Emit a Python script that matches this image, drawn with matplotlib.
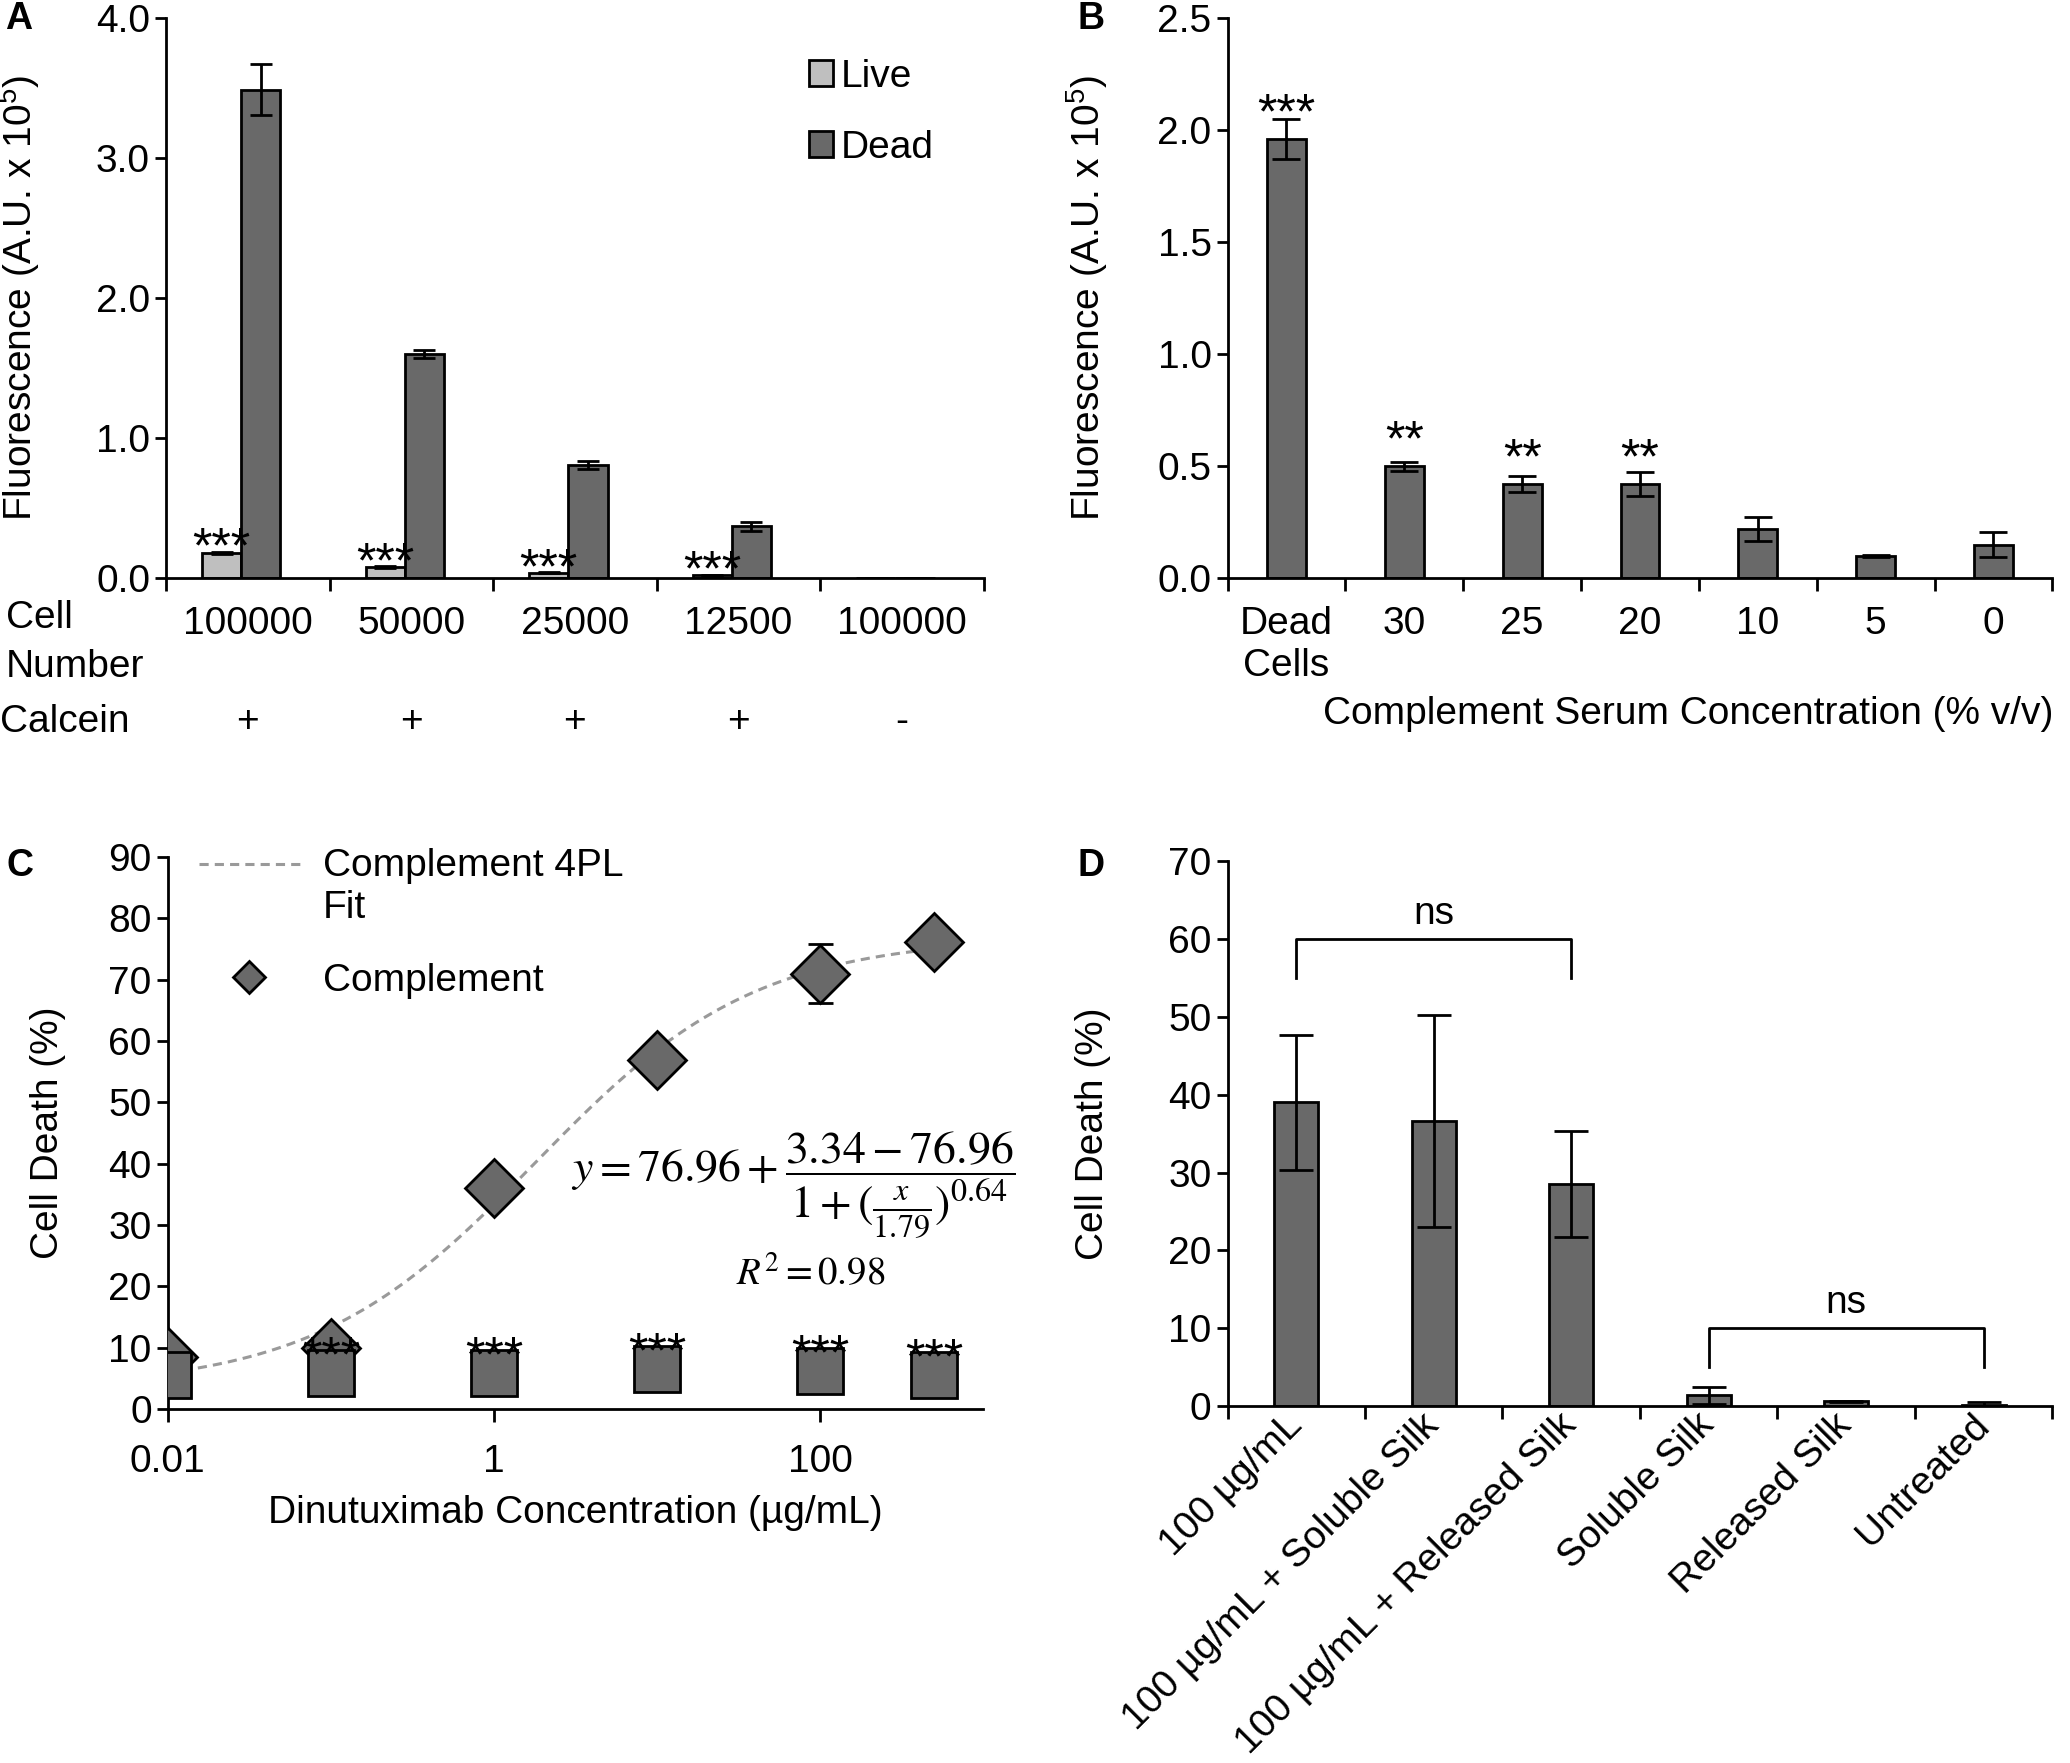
import numpy as np
import matplotlib
matplotlib.use("Agg")
import matplotlib.pyplot as plt
from matplotlib.patches import Patch
from matplotlib.legend_handler import HandlerLine2D
from matplotlib.ticker import NullLocator, FixedLocator
import matplotlib.transforms as mtransforms

plt.rcParams["font.family"] = ["Liberation Sans", "DejaVu Sans"]
plt.rcParams["mathtext.fontset"] = "stix"
plt.rcParams["font.size"] = 28
plt.rcParams["axes.linewidth"] = 2

DARK = "#696969"
LIGHT = "#bfbfbf"
STAR_SIZE = 36

# ---- panel A data
a_cells = ["100000", "50000", "25000", "12500", "100000"]
a_calcein = ["+", "+", "+", "+", "-"]
a_live = [0.18, 0.08, 0.04, 0.02, 0.003]
a_live_err = [0.01, 0.005, 0.005, 0.005, 0.0]
a_dead = [3.49, 1.60, 0.81, 0.37, 0.005]
a_dead_err = [0.18, 0.03, 0.03, 0.03, 0.0]
a_live_sig = ["***", "***", "***", "***", ""]

# ---- panel B data
b_labels = ["Dead\nCells", "30", "25", "20", "10", "5", "0"]
b_vals = [1.96, 0.50, 0.42, 0.42, 0.22, 0.10, 0.15]
b_err = [0.09, 0.02, 0.035, 0.055, 0.055, 0.003, 0.055]
b_sig = ["***", "**", "**", "**", "", "", ""]

# ---- panel C data
c_conc = [0.01, 0.1, 1, 10, 100, 500]
c_complement = [8.5, 10.0, 36.1, 57.0, 71.0, 76.2]
c_complement_err = [0.5, 0.5, 0.8, 0.8, 4.8, 0.8]
c_no_complement = [5.6, 5.9, 5.9, 6.6, 6.2, 5.5]
c_sig = ["", "***", "***", "***", "***", "***"]
fit_bottom, fit_top, fit_ec50, fit_hill = 3.34, 76.96, 1.79, 0.64

# ---- panel D data
d_labels = ["100 µg/mL", "100 µg/mL + Soluble Silk", "100 µg/mL + Released Silk",
            "Soluble Silk", "Released Silk", "Untreated"]
d_vals = [39.0, 36.6, 28.5, 1.4, 0.6, 0.15]
d_err = [8.7, 13.6, 6.8, 1.1, 0.1, 0.3]
d_brackets = [(0, 2, 60, "ns"), (3, 5, 10, "ns")]


class HandlerTopLine(HandlerLine2D):
    # keep the dashed sample level with the first line of a two-line label
    def create_artists(self, legend, orig_handle, xdescent, ydescent, width, height,
                       fontsize, trans):
        arts = super().create_artists(legend, orig_handle, xdescent, ydescent, width,
                                      height, fontsize, trans)
        for a in arts:
            a.set_ydata(np.asarray(a.get_ydata()) + 0.6 * fontsize)
        return arts


def category_axis(ax, n, labels, pad):
    ax.set_xlim(-0.5, n - 0.5)
    ax.xaxis.set_major_locator(FixedLocator(np.arange(-0.5, n, 1)))
    ax.set_xticklabels([])
    ax.set_xticks(np.arange(n), labels, minor=True)
    ax.tick_params(axis="x", which="major", length=9, width=2, direction="out")
    ax.tick_params(axis="x", which="minor", length=0, pad=pad)


def style(ax):
    for s in ("top", "right"):
        ax.spines[s].set_visible(False)
    ax.tick_params(axis="y", length=8, width=2, direction="out")


def stars(ax, x, y, s, dy):
    ax.annotate(s, (x, y), xytext=(0, dy), textcoords="offset points", ha="center",
                va="baseline", fontsize=STAR_SIZE, zorder=6)


fig = plt.figure(figsize=(20.7, 17.63), dpi=100)

# ---- A
axA = fig.add_axes([0.0802, 0.672, 0.395, 0.3177])
style(axA)
x = np.arange(len(a_cells))
axA.bar(x - 0.16, a_live, 0.24, color=LIGHT, edgecolor="black", lw=2, zorder=2)
axA.bar(x + 0.08, a_dead, 0.24, color=DARK, edgecolor="black", lw=2, zorder=2)
axA.errorbar(x - 0.16, a_live, yerr=a_live_err, fmt="none", ecolor="black", elinewidth=2,
             capsize=8, capthick=2, zorder=3)
axA.errorbar(x + 0.08, a_dead, yerr=a_dead_err, fmt="none", ecolor="black", elinewidth=2,
             capsize=8, capthick=2, zorder=3)
for i, s in enumerate(a_live_sig):
    if s:
        stars(axA, x[i] - 0.16, a_live[i] + a_live_err[i], s, -8)
axA.set_ylim(0, 4.0)
axA.set_yticks(np.arange(0, 4.01, 1.0))
axA.set_yticklabels([f"{v:.1f}" for v in np.arange(0, 4.01, 1.0)])
category_axis(axA, len(a_cells), a_cells, 20)
axA.set_ylabel(r"Fluorescence (A.U. x $\mathregular{10^5}$)", fontsize=28)
axA.yaxis.set_label_coords(-0.152, 0.5)
trA = mtransforms.blended_transform_factory(axA.transData, axA.transAxes)
for i, c in enumerate(a_calcein):
    axA.text(x[i], -0.257, c, transform=trA, ha="center", va="center")
axA.text(-0.196, -0.115, "Cell\nNumber", transform=axA.transAxes, ha="left", va="center",
         linespacing=1.45)
axA.text(-0.203, -0.257, "Calcein", transform=axA.transAxes, ha="left", va="center")
axA.legend(handles=[Patch(facecolor=LIGHT, edgecolor="black", lw=2, label="Live"),
                    Patch(facecolor=DARK, edgecolor="black", lw=2, label="Dead")],
           loc="upper left", bbox_to_anchor=(0.743, 0.99), frameon=False,
           handlelength=0.62, handleheight=0.62, handletextpad=0.2, labelspacing=0.9)

# ---- B
axB = fig.add_axes([0.593, 0.672, 0.3985, 0.3177])
style(axB)
xb = np.arange(len(b_labels))
axB.bar(xb, b_vals, 0.33, color=DARK, edgecolor="black", lw=2, zorder=2)
axB.errorbar(xb, b_vals, yerr=b_err, fmt="none", ecolor="black", elinewidth=2,
             capsize=10, capthick=2, zorder=3)
for i, s in enumerate(b_sig):
    if s:
        stars(axB, xb[i], b_vals[i], s, 8)
axB.set_ylim(0, 2.5)
axB.set_yticks(np.arange(0, 2.51, 0.5))
axB.set_yticklabels([f"{v:.1f}" for v in np.arange(0, 2.51, 0.5)])
category_axis(axB, len(b_labels), b_labels, 20)
axB.set_ylabel(r"Fluorescence (A.U. x $\mathregular{10^5}$)", fontsize=28)
axB.yaxis.set_label_coords(-0.143, 0.5)
axB.set_xlabel("Complement Serum Concentration (% v/v)")
axB.xaxis.set_label_coords(0.558, -0.21)

# ---- C
axC = fig.add_axes([0.081, 0.2008, 0.394, 0.313])
style(axC)
axC.set_xscale("log")
xf = np.logspace(np.log10(c_conc[0]), np.log10(c_conc[-1]), 300)
yf = fit_top + (fit_bottom - fit_top) / (1 + (xf / fit_ec50) ** fit_hill)
fit_line, = axC.plot(xf, yf, ls=(0, (3, 2)), color="#9a9a9a", lw=2.2, zorder=1,
                     label="Complement 4PL\nFit")
axC.errorbar(c_conc, c_complement, yerr=c_complement_err, fmt="none", ecolor="black",
             elinewidth=2, capsize=9, capthick=2, zorder=2)
diam, = axC.plot(c_conc, c_complement, ls="none", marker="D", ms=30, mfc=DARK, mec="black",
                 mew=2, zorder=3, label="Complement")
axC.plot(c_conc, c_no_complement, ls="none", marker="s", ms=33, mfc=DARK, mec="black",
         mew=2, zorder=4)
for xi, yi, s in zip(c_conc, c_no_complement, c_sig):
    if s:
        stars(axC, xi, yi, s, 1)
axC.set_xlim(0.01, 1000)
axC.set_ylim(0, 90)
axC.set_yticks(np.arange(0, 91, 10))
axC.xaxis.set_major_locator(FixedLocator([0.01, 1, 100]))
axC.xaxis.set_minor_locator(NullLocator())
axC.set_xticklabels(["0.01", "1", "100"])
axC.tick_params(axis="x", length=9, width=2, pad=16)
axC.set_ylabel("Cell Death (%)")
axC.yaxis.set_label_coords(-0.125, 0.5)
axC.set_xlabel("Dinutuximab Concentration (µg/mL)")
axC.xaxis.set_label_coords(0.5, -0.155)
axC.legend(handles=[fit_line, diam], loc="upper left", bbox_to_anchor=(-0.005, 1.08),
           frameon=False, markerscale=0.55, handlelength=2.6, handletextpad=0.6,
           labelspacing=0.95, handler_map={fit_line: HandlerTopLine()})
axC.text(2.97, 36.5,
         r"$y = 76.96 + \dfrac{3.34 - 76.96}{1 + (\frac{x}{1.79})^{0.64}}$",
         ha="left", va="center", fontsize=33)
axC.text(87.7, 22.0, r"$R^2 = 0.98$", ha="center", va="center", fontsize=28)

# ---- D
axD = fig.add_axes([0.593, 0.2025, 0.3985, 0.309])
style(axD)
xd = np.arange(len(d_labels))
axD.bar(xd, d_vals, 0.32, color=DARK, edgecolor="black", lw=2, zorder=2)
axD.errorbar(xd, d_vals, yerr=d_err, fmt="none", ecolor="black", elinewidth=2,
             capsize=12, capthick=2, zorder=3)
for i, j, yb, lab in d_brackets:
    axD.plot([i, i, j, j], [yb - 5, yb, yb, yb - 5], color="black", lw=2)
    axD.text((i + j) / 2, yb + 0.9, lab, ha="center", va="bottom")
axD.set_ylim(0, 70)
axD.set_yticks(np.arange(0, 71, 10))
category_axis(axD, len(d_labels), d_labels, 10)
for t in axD.get_xticklabels(minor=True):
    t.set_rotation(45)
    t.set_ha("right")
    t.set_va("center")
    t.set_rotation_mode("anchor")
axD.set_ylabel("Cell Death (%)")
axD.yaxis.set_label_coords(-0.141, 0.5)

# ---- panel letters
for lab, px, py in [("A", 0.009, 0.989), ("B", 0.527, 0.989), ("C", 0.0097, 0.509),
                    ("D", 0.527, 0.509)]:
    fig.text(px, py, lab, ha="center", va="center", fontweight="bold", fontsize=27)

fig.savefig("out.png", dpi=100)
